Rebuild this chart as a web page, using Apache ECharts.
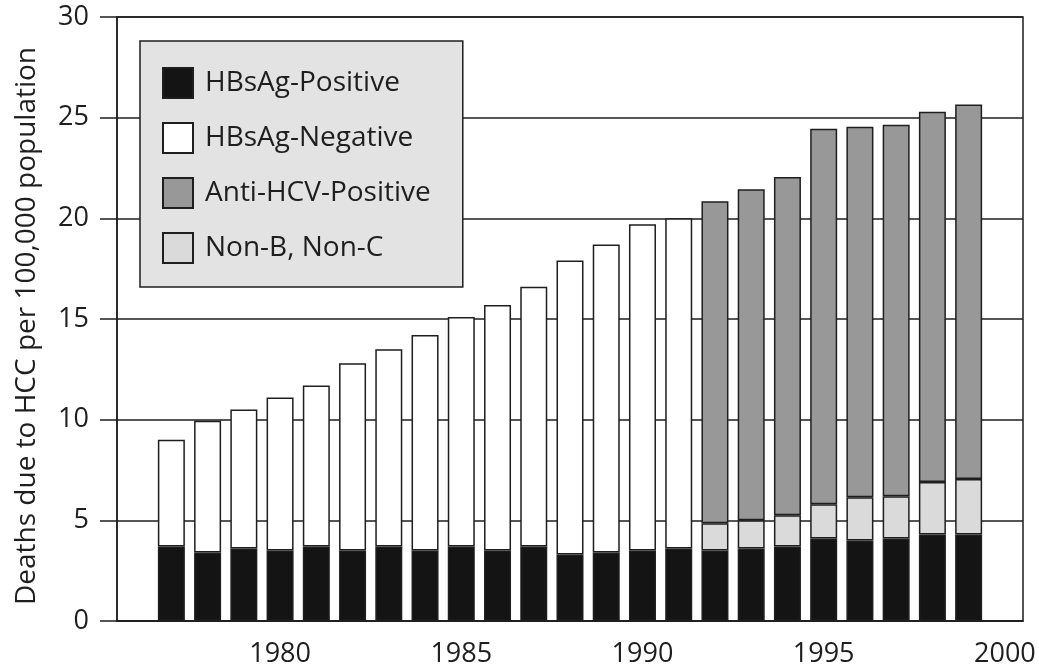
<!DOCTYPE html>
<html>
<head>
<meta charset="utf-8">
<script src="https://cdn.jsdelivr.net/npm/echarts@6/dist/echarts.min.js"></script>
<style>
html,body{margin:0;padding:0;background:#fff;}
#c{width:1039px;height:665px;}
</style>
</head>
<body>
<div id="c"></div>
<script>
const years = ['1976','1977','1978','1979','1980','1981','1982','1983','1984','1985','1986','1987','1988','1989','1990','1991','1992','1993','1994','1995','1996','1997','1998','1999','2000'];
const yTicks = [0, 5, 10, 15, 20, 25, 30];
const hbsagPositive = [null,3.7,3.4,3.6,3.5,3.7,3.5,3.7,3.5,3.7,3.5,3.7,3.3,3.4,3.5,3.6,3.5,3.6,3.7,4.1,4.0,4.1,4.3,4.3,null];
const hbsagNegative = [null,5.3,6.55,6.9,7.6,8.0,9.3,9.8,10.7,11.4,12.2,12.9,14.6,15.3,16.2,16.4,null,null,null,null,null,null,null,null,null];
const nonBnonC =      [null,null,null,null,null,null,null,null,null,null,null,null,null,null,null,null,1.35,1.4,1.55,1.7,2.15,2.1,2.6,2.75,null];
const antiHCV =       [null,null,null,null,null,null,null,null,null,null,null,null,null,null,null,null,16.0,16.45,16.8,18.65,18.4,18.45,18.4,18.6,null];

const FONT = 'Open Sans';
const INK = '#1e1e1e';
const chart = echarts.init(document.getElementById('c'), null, {renderer:'canvas'});
const bw = 27;
function bar(name, data, color){
  return {name, type:'bar', stack:'t', data, barWidth:bw,
    itemStyle:{color, borderColor:INK, borderWidth:1.5}, emphasis:{disabled:true}};
}
chart.setOption({
  animation:false,
  backgroundColor:'#fff',
  grid:{left:117,right:16,top:17,bottom:44,outerBoundsMode:'none',containLabel:false,
    show:true,borderColor:INK,borderWidth:1.5,backgroundColor:'transparent'},
  legend:{
    data:['HBsAg-Positive','HBsAg-Negative','Anti-HCV-Positive','Non-B, Non-C'],
    orient:'vertical', left:140, top:41,
    itemWidth:30, itemHeight:30, itemGap:23,
    padding:[26,32,23,22],
    backgroundColor:'#e3e3e3', borderColor:INK, borderWidth:1.5,
    icon:'rect',
    textStyle:{fontFamily:FONT,fontSize:28,color:INK,padding:[0,0,0,7]}
  },
  xAxis:{
    type:'category', data:years, boundaryGap:true,
    axisLine:{lineStyle:{color:INK,width:1.5}},
    axisTick:{alignWithLabel:true,length:12,lineStyle:{color:INK,width:1.5},
      interval:(i,v)=>Number(v)%5===0},
    axisLabel:{interval:(i,v)=>Number(v)%5===0, margin:20, fontFamily:FONT,fontSize:27,color:INK},
    splitLine:{show:false}
  },
  yAxis:{
    type:'value', min:yTicks[0], max:yTicks[yTicks.length-1], interval:5,
    name:'Deaths due to HCC per 100,000 population', nameLocation:'middle', nameGap:76,
    nameTextStyle:{fontFamily:FONT,fontSize:28,color:INK,padding:[0,14,0,0]},
    axisLine:{show:true,lineStyle:{color:INK,width:1.5}},
    axisTick:{show:true,length:17,lineStyle:{color:INK,width:1.5}},
    axisLabel:{margin:28,fontFamily:FONT,fontSize:27,color:INK},
    splitLine:{show:true,lineStyle:{color:INK,width:1.5}}
  },
  series:[
    bar('HBsAg-Positive', hbsagPositive, '#141414'),
    bar('Non-B, Non-C', nonBnonC, '#dadada'),
    bar('Anti-HCV-Positive', antiHCV, '#989898'),
    bar('HBsAg-Negative', hbsagNegative, '#ffffff')
  ]
});
</script>
</body>
</html>
